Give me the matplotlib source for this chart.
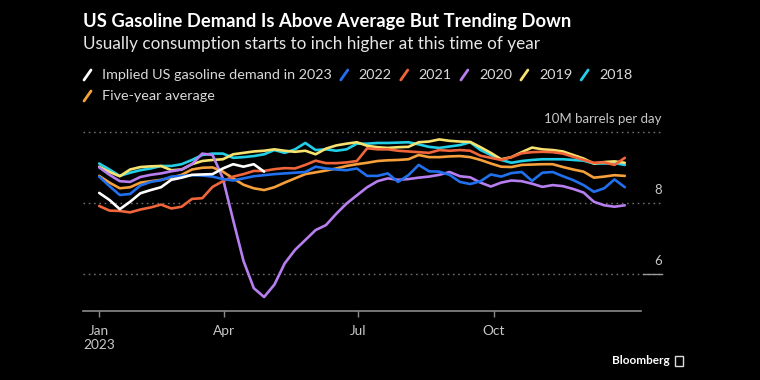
import matplotlib
matplotlib.use('Agg')
import matplotlib.pyplot as plt
from matplotlib.lines import Line2D
from matplotlib.patches import Rectangle
import pandas as pd

plt.rcParams['font.family'] = ['Lato', 'DejaVu Sans']

# weekly data, week ending Fridays
weeks = pd.date_range('2023-01-06', periods=52, freq='7D')

# million barrels per day
d2023 = [8.29, 8.09, 7.83, 8.04, 8.28, 8.37, 8.45, 8.66, 8.72, 8.80, 8.81, 8.82, 8.98,
         9.10, 9.03, 9.10, 8.89]
d2022 = [8.75, 8.48, 8.23, 8.26, 8.50, 8.60, 8.65, 8.75, 8.77, 8.79, 8.78, 8.75, 8.68,
         8.64, 8.70, 8.76, 8.79, 8.82, 8.84, 8.86, 8.88, 9.03, 8.98, 8.95, 8.93, 8.98,
         8.77, 8.77, 8.84, 8.60, 8.79, 9.08, 8.90, 8.89, 8.80, 8.60, 8.54, 8.62, 8.81,
         8.75, 8.85, 8.88, 8.63, 8.86, 8.88, 8.76, 8.65, 8.51, 8.32, 8.42, 8.67, 8.45]
d2021 = [7.92, 7.79, 7.78, 7.74, 7.82, 7.88, 7.96, 7.85, 7.90, 8.12, 8.14, 8.46, 8.62,
         8.75, 8.82, 8.91, 8.91, 8.96, 8.99, 8.98, 9.08, 9.20, 9.13, 9.13, 9.15, 9.19,
         9.55, 9.52, 9.52, 9.48, 9.46, 9.44, 9.42, 9.50, 9.48, 9.50, 9.48, 9.34, 9.28,
         9.22, 9.30, 9.41, 9.44, 9.45, 9.44, 9.40, 9.31, 9.22, 9.14, 9.15, 9.08, 9.28]
d2020 = [9.01, 8.80, 8.62, 8.60, 8.74, 8.80, 8.84, 8.90, 8.95, 9.10, 9.40, 9.36, 8.70,
         7.52, 6.37, 5.60, 5.35, 5.70, 6.30, 6.68, 6.96, 7.24, 7.38, 7.70, 7.99, 8.22,
         8.45, 8.62, 8.70, 8.66, 8.68, 8.72, 8.75, 8.80, 8.88, 8.76, 8.73, 8.58, 8.47,
         8.58, 8.64, 8.62, 8.55, 8.46, 8.51, 8.48, 8.40, 8.30, 8.04, 7.94, 7.90, 7.94]
d2019 = [9.03, 8.88, 8.76, 8.95, 9.02, 9.04, 9.05, 8.93, 8.95, 9.10, 9.19, 9.22, 9.24,
         9.38, 9.42, 9.46, 9.48, 9.52, 9.48, 9.45, 9.48, 9.38, 9.54, 9.63, 9.68, 9.72,
         9.62, 9.58, 9.56, 9.58, 9.59, 9.72, 9.74, 9.80, 9.76, 9.74, 9.73, 9.58, 9.42,
         9.24, 9.30, 9.44, 9.57, 9.52, 9.50, 9.46, 9.36, 9.26, 9.12, 9.16, 9.18, 9.14]
d2018 = [9.12, 8.95, 8.77, 8.86, 8.93, 8.98, 9.05, 9.05, 9.10, 9.22, 9.36, 9.40, 9.40,
         9.28, 9.30, 9.33, 9.38, 9.50, 9.42, 9.52, 9.70, 9.50, 9.52, 9.48, 9.52, 9.68,
         9.68, 9.70, 9.70, 9.71, 9.72, 9.66, 9.59, 9.56, 9.60, 9.64, 9.72, 9.50, 9.36,
         9.22, 9.14, 9.19, 9.22, 9.24, 9.24, 9.24, 9.22, 9.20, 9.12, 9.12, 9.13, 9.08]
avg5 = [8.77, 8.58, 8.42, 8.45, 8.58, 8.62, 8.66, 8.72, 8.80, 8.95, 9.00, 9.01, 8.89,
        8.70, 8.52, 8.42, 8.37, 8.45, 8.58, 8.70, 8.82, 8.87, 8.92, 8.98, 9.05, 9.10,
        9.14, 9.19, 9.21, 9.22, 9.24, 9.36, 9.30, 9.30, 9.32, 9.33, 9.30, 9.22, 9.12,
        9.03, 9.02, 9.08, 9.09, 9.10, 9.10, 9.02, 8.95, 8.89, 8.72, 8.75, 8.79, 8.77]

series = [
    ('Implied US gasoline demand in 2023', d2023, '#ffffff'),
    ('2022', d2022, '#2170ee'),
    ('2021', d2021, '#f0653a'),
    ('2020', d2020, '#b77ef0'),
    ('2019', d2019, '#f7e270'),
    ('2018', d2018, '#22cfe6'),
    ('Five-year average', avg5, '#f5a03a'),
]

yticks = [6, 8]
xtick_dates = [weeks[0], pd.Timestamp('2023-04-01'), pd.Timestamp('2023-07-01'),
               pd.Timestamp('2023-10-01')]
xtick_labels = ['Jan\n2023', 'Apr', 'Jul', 'Oct']

W, H = 760, 380
fig = plt.figure(figsize=(W / 100, H / 100), dpi=100, facecolor='black')
ax = fig.add_axes([83 / W, 69 / H, 558 / W, 194.6 / H], facecolor='black')

# draw back to front, 2023 on top
for label, vals, col in reversed(series):
    ax.plot(weeks[:len(vals)], vals, color=col, lw=1.9,
            solid_joinstyle='round', solid_capstyle='round', zorder=3)

ax.set_xlim(pd.Timestamp('2022-12-26'), pd.Timestamp('2024-01-09'))
ax.set_ylim(4.955, 10.45)

# dotted gridlines running under the right-hand labels
gx = (662 - 83) / 558
for v in yticks + [10]:
    ax.axhline(v, xmin=0, xmax=gx, color='#6e6e6e', lw=1, ls=(0, (1.2, 2.6)),
               clip_on=False, zorder=1)
    lab = '10M barrels per day' if v == 10 else str(v)
    ax.text(gx, v + 0.2, lab, transform=ax.get_yaxis_transform(), ha='right',
            va='bottom', color='#c8c8c8', fontsize=9.5)
ax.plot([(643 - 83) / 558, gx], [6, 6], transform=ax.get_yaxis_transform(),
        color='#9a9a9a', lw=1, clip_on=False)

ax.set_yticks([])
for s in ['top', 'right', 'left']:
    ax.spines[s].set_visible(False)
ax.spines['bottom'].set_color('#8a8a8a')
ax.spines['bottom'].set_linewidth(1.2)
ax.set_xticks(xtick_dates)
ax.set_xticklabels(xtick_labels)
ax.tick_params(axis='x', colors='#8a8a8a', length=4, width=1, pad=6,
               labelcolor='#c8c8c8', labelsize=9.8)

fig.text(83 / W, 1 - 22 / H, 'US Gasoline Demand Is Above Average But Trending Down',
         color='white', fontsize=13.2, fontweight='bold', va='center')
fig.text(83 / W, 1 - 44 / H, 'Usually consumption starts to inch higher at this time of year',
         color='#e6e6e6', fontsize=12.3, va='center')

# legend with slanted line markers
fig.canvas.draw()
rend = fig.canvas.get_renderer()
rows = [(75, series[:6]), (96, series[6:])]
for ypix, row in rows:
    x = 84
    for label, vals, col in row:
        fig.add_artist(Line2D([x / W, (x + 7) / W], [1 - (ypix + 5) / H, 1 - (ypix - 5) / H],
                              color=col, lw=2, solid_capstyle='round'))
        t = fig.text((x + 18) / W, 1 - ypix / H, label, color='#d9d9d9', fontsize=10.4,
                     va='center')
        bb = t.get_window_extent(rend)
        x = bb.x1 + 9

fig.text(670 / W, 1 - 361 / H, 'Bloomberg', color='white', fontsize=8.5,
         fontweight='bold', ha='right', va='center')
fig.add_artist(Rectangle((675 / W, 1 - 366 / H), 8 / W, 10 / H, fill=False,
                         edgecolor='#dddddd', lw=1))

fig.savefig('out.png', dpi=100, facecolor='black')
